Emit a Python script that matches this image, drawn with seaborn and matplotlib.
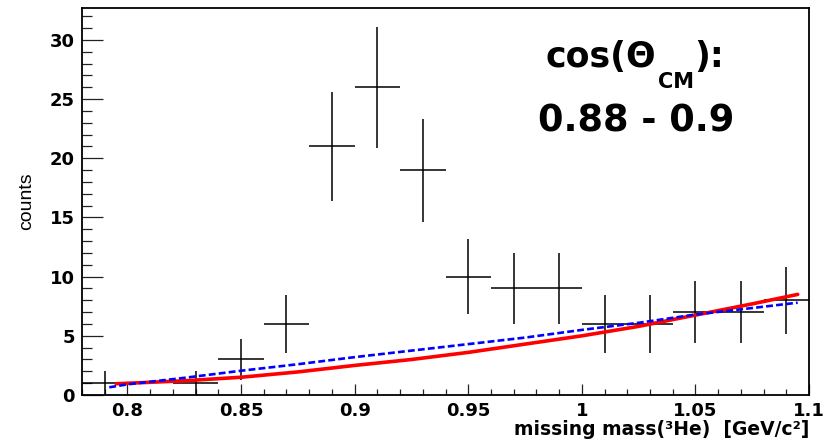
import matplotlib
matplotlib.use("Agg")
import matplotlib.pyplot as plt
import numpy as np
import pandas as pd
import seaborn as sns
from matplotlib.ticker import MultipleLocator

# histogram: bin centres (width 0.02) and counts
bin_centers = [0.79, 0.83, 0.85, 0.87, 0.89, 0.91, 0.93, 0.95,
               0.97, 0.99, 1.01, 1.03, 1.05, 1.07, 1.09]
counts = [1, 1, 3, 6, 21, 26, 19, 10, 9, 9, 6, 6, 7, 7, 8]
bin_width = 0.02

# fit curves
red_x = [0.795, 0.825, 0.85, 0.875, 0.90, 0.925, 0.95, 0.975, 1.0, 1.025, 1.05, 1.075, 1.095]
red_y = [0.95, 1.2, 1.5, 1.95, 2.5, 3.0, 3.6, 4.3, 5.0, 5.8, 6.75, 7.7, 8.5]
blue_x = [0.792, 0.80, 0.825, 0.85, 0.875, 0.90, 0.925, 0.95, 0.975, 1.0, 1.025, 1.05, 1.075, 1.095]
blue_y = [0.65, 0.9, 1.45, 2.05, 2.6, 3.2, 3.75, 4.3, 4.85, 5.5, 6.1, 6.8, 7.35, 7.8]

xtick_vals = [0.8, 0.85, 0.9, 0.95, 1.0, 1.05, 1.1]
xtick_text = ["0.8", "0.85", "0.9", "0.95", "1", "1.05", "1.1"]

sns.set_theme(style="white", rc={"text.color": "black", "axes.labelcolor": "black",
                                 "xtick.color": "black", "ytick.color": "black"})
plt.rcParams["font.family"] = ["DejaVu Sans"]

fig = plt.figure(figsize=(8.37, 4.41), dpi=100)
ax = fig.add_axes([0.098, 0.1043, 0.8686, 0.8776])

hist = pd.DataFrame({"x": bin_centers, "n": counts})
hist["err"] = np.sqrt(hist["n"])
ax.errorbar(hist["x"], hist["n"], xerr=bin_width / 2, yerr=hist["err"],
            fmt="none", ecolor="black", elinewidth=1.1, capsize=0, zorder=2)

curves = pd.concat([
    pd.DataFrame({"x": red_x, "y": red_y, "fit": "red"}),
    pd.DataFrame({"x": blue_x, "y": blue_y, "fit": "blue"}),
])
sns.lineplot(data=curves[curves.fit == "red"], x="x", y="y", color="#ff0000",
             lw=2.6, ax=ax, zorder=3)
sns.lineplot(data=curves[curves.fit == "blue"], x="x", y="y", color="#0000ff",
             lw=1.9, ls=(0, (2.6, 1.2)), ax=ax, zorder=4)

ax.set_xlim(0.78, 1.10)
ax.set_ylim(0, 32.7)
ax.xaxis.set_minor_locator(MultipleLocator(0.01))
ax.yaxis.set_major_locator(MultipleLocator(5))
ax.yaxis.set_minor_locator(MultipleLocator(1))
ax.set_xticks(xtick_vals)
ax.set_xticklabels(xtick_text)

ax.tick_params(axis="both", which="both", direction="in", color="#222222",
               width=0.9, labelsize=13, bottom=True, left=True, top=False, right=False)
ax.tick_params(axis="x", which="major", length=8, pad=5)
ax.tick_params(axis="x", which="minor", length=4)
ax.tick_params(axis="y", which="major", length=15, pad=5)
ax.tick_params(axis="y", which="minor", length=7.5)
for lab in ax.get_xticklabels() + ax.get_yticklabels():
    lab.set_fontweight("bold")

for sp in ax.spines.values():
    sp.set_color("black")
    sp.set_linewidth(1.3)

ax.set_xlabel("missing mass(³He)  [GeV/c²]", loc="right", fontsize=13.5,
              fontweight="bold", labelpad=0)
ax.set_ylabel("counts", fontsize=14, family="Liberation Sans")
ax.yaxis.set_label_coords(-0.065, 0.5)

# "cos(Theta_CM):" built from pieces so the subscript sits low like ROOT's
t1 = ax.text(0.637, 0.848, "cos(Θ", transform=ax.transAxes, ha="left",
             va="baseline", fontsize=25, fontweight="bold")
t2 = ax.annotate("CM", xy=(1, 0), xycoords=t1, xytext=(1.5, 1.5),
                 textcoords="offset points", ha="left", va="top",
                 fontsize=15, fontweight="bold")
ax.annotate("):", xy=(1, 0), xycoords=(t2, t1), xytext=(0, 0),
            textcoords="offset points", ha="left", va="bottom",
            fontsize=25, fontweight="bold")
ax.text(0.7627, 0.6796, "0.88 - 0.9", transform=ax.transAxes,
        ha="center", va="baseline", fontsize=26.5, fontweight="bold")

fig.savefig("out.png", dpi=100)
